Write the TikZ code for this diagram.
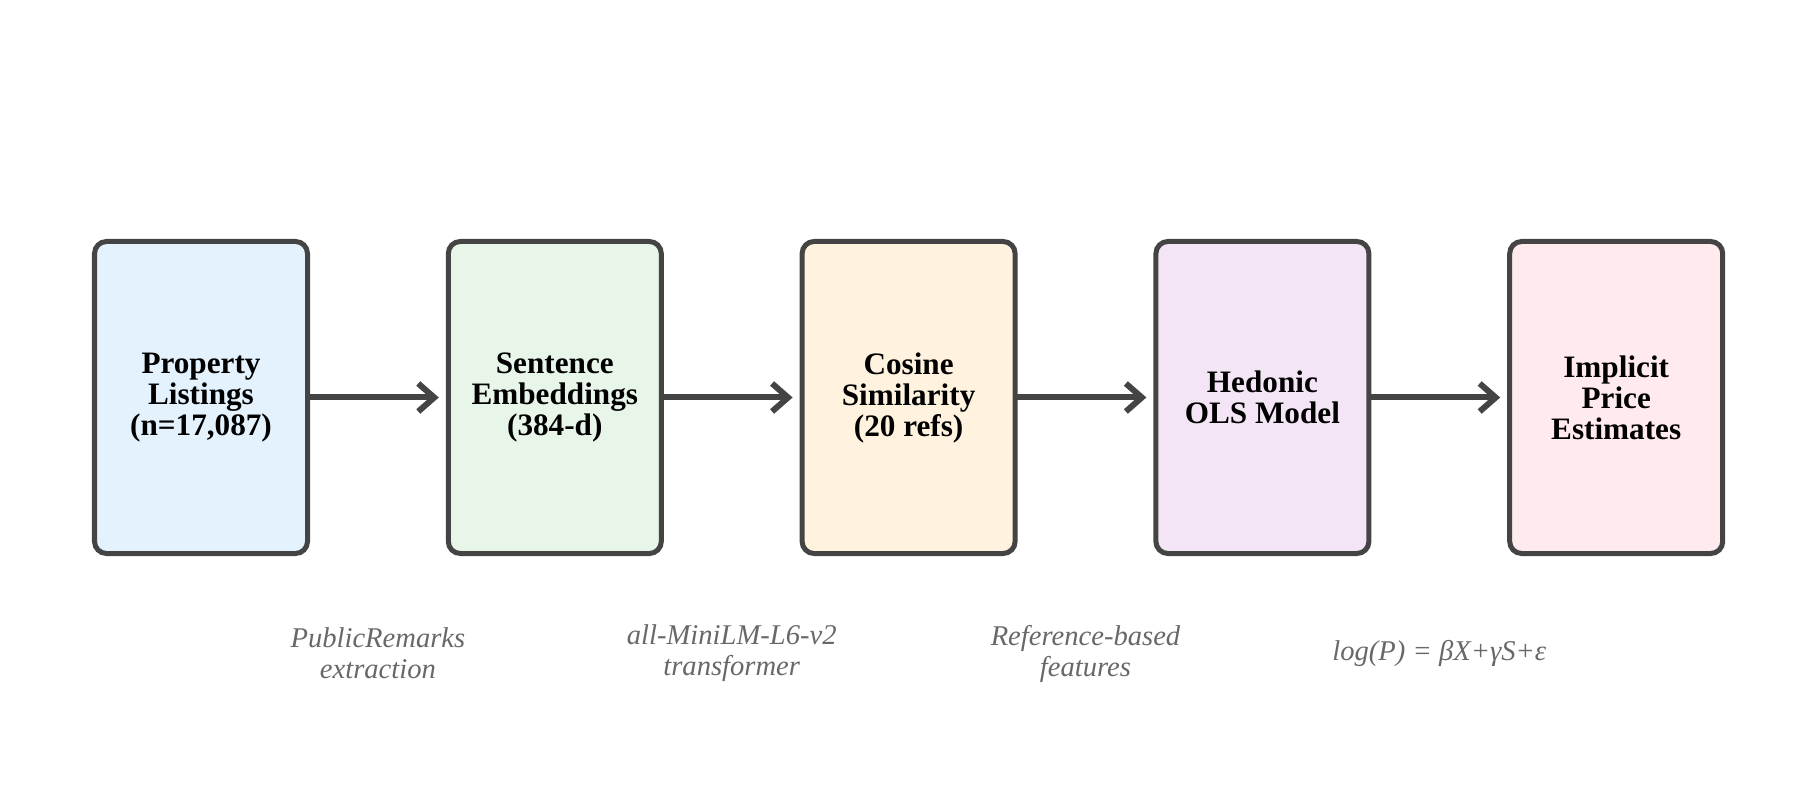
\documentclass[tikz,border=0pt]{standalone}
\usepackage{fontspec}
\setmainfont{Liberation Serif}
\usetikzlibrary{arrows.meta,positioning,calc}
\definecolor{edgegray}{RGB}{68,68,68}
\definecolor{notegray}{RGB}{104,104,104}
\definecolor{listbg}{HTML}{E3F2FD}
\definecolor{embedbg}{HTML}{E8F5E9}
\definecolor{cosbg}{HTML}{FFF3E0}
\definecolor{olsbg}{HTML}{F3E5F5}
\definecolor{pricebg}{HTML}{FFEBEE}

\begin{document}
\begin{tikzpicture}[node distance=0.5cm and 70.4pt,
    stage/.style={draw=edgegray, line width=2.5pt, rounded corners=6pt, minimum width=106.5pt, minimum height=156pt, inner sep=0pt, outer sep=0pt, align=center, font=\fontsize{15.6}{15.5}\selectfont\bfseries},
    note/.style={align=center, text=notegray, font=\fontsize{14.3}{15.5}\selectfont\itshape},
    flow/.style={-{Straight Barb[length=8pt,width=14pt]}, line width=3pt, edgegray, shorten >=4.75pt}]
				\useasboundingbox (-100.5pt,-199.75pt) rectangle (808.5pt,198.75pt);
				\node[stage, fill=listbg] (listings) at (0,0) {Property\\ Listings\\ (n=17,087)};
				\node[stage, fill=embedbg, right=of listings] (embed) {Sentence\\ Embeddings\\ (384-d)};
				\node[stage, fill=cosbg, right=of embed] (cosine) {Cosine\\ Similarity\\ (20 refs)};
				\node[stage, fill=olsbg, right=of cosine] (ols) {Hedonic\\ OLS Model};
				\node[stage, fill=pricebg, right=of ols] (prices) {Implicit\\ Price\\ Estimates};
				\draw[flow] (listings) -- (embed);
				\draw[flow] (embed) -- (cosine);
				\draw[flow] (cosine) -- (ols);
				\draw[flow] (ols) -- (prices);
				\node[note] (n1) at ($(listings)!0.5!(embed)+(0,-128pt)$) {PublicRemarks\\ extraction};
				\node[note] (n2) at ($(embed)!0.5!(cosine)+(0,-128pt)$) {all-MiniLM-L6-v2\\ transformer};
				\node[note] (n3) at ($(cosine)!0.5!(ols)+(0,-128pt)$) {Reference-based\\ features};
				\node[note] (n4) at ($(ols)!0.5!(prices)+(0,-128pt)$) {log(P) = βX+γS+ε};
			\end{tikzpicture}
\end{document}
